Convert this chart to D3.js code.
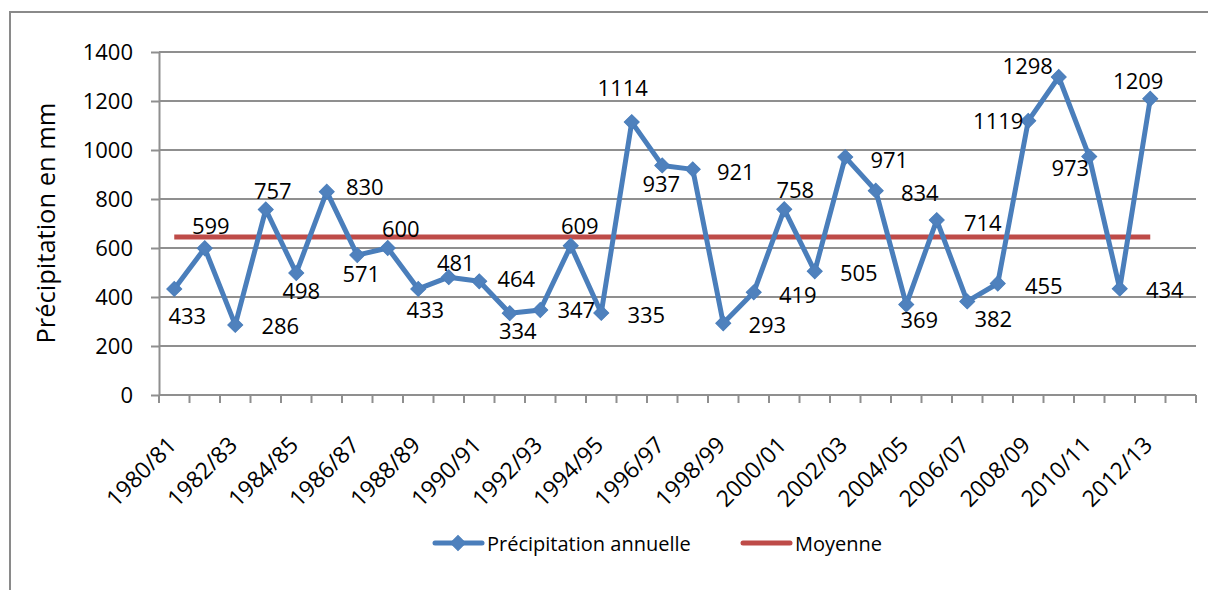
<!DOCTYPE html>
<html>
<head>
<meta charset="utf-8">
<script src="https://cdn.jsdelivr.net/npm/d3@7"></script>
<style>
  body { margin: 0; background: #fff; }
  text { font-family: "Open Sans", "Noto Sans", sans-serif; fill: #000; }
</style>
</head>
<body>
<div id="chart"></div>
<script>
// annual rainfall, one value per hydrological year
const years = ["1980/81", "1981/82", "1982/83", "1983/84", "1984/85", "1985/86", "1986/87", "1987/88",
               "1988/89", "1989/90", "1990/91", "1991/92", "1992/93", "1993/94", "1994/95", "1995/96",
               "1996/97", "1997/98", "1998/99", "1999/00", "2000/01", "2001/02", "2002/03", "2003/04",
               "2004/05", "2005/06", "2006/07", "2007/08", "2008/09", "2009/10", "2010/11", "2011/12",
               "2012/13", "2013/14"];
const precip = [433, 599, 286, 757, 498, 830, 571, 600, 433, 481, 464, 334, 347, 609, 335, 1114,
                937, 921, 293, 419, 758, 505, 971, 834, 369, 714, 382, 455, 1119, 1298, 973, 434,
                1209, null];
const moyenne = 645;
const yTicks = [0, 200, 400, 600, 800, 1000, 1200, 1400];

// where each data label sits relative to its point (dx, dy) - labels were dragged around by hand
const labelOffsets = [[13, 26], [6, -23], [45, 0], [7, -20], [5, 17], [38, -6], [4, 18], [13, -20],
                      [7, 20], [7, -15], [37, -3], [8, 17], [36, -1], [9, -21], [45, 1], [-9, -35],
                      [-1, 18], [43, 2], [44, 1], [44, 2], [11, -20], [44, 1], [44, 2], [44, 1],
                      [13, 14], [46, 2], [26, 17], [46, 1], [-30, -1], [-31, -12], [-19, 10], [45, 0],
                      [-12, -19], [0, 0]];

const width = 1208,
      height = 590,
      margin = ({ top: 52, right: 12, bottom: 195, left: 159 });

const blue = "#4a7ebb", red = "#be4b48", grid = "#8f8f8f";

let svg = d3.select("#chart")
    .append("svg")
    .attr("width", width)
    .attr("height", height)
    .attr("viewBox", [0, 0, width, height]);

// chart area frame (runs off the right and bottom of the picture)
svg.append("rect")
    .attr("x", 10).attr("y", 12)
    .attr("width", 1400).attr("height", 800)
    .attr("fill", "#fff")
    .attr("stroke", "#8a8a8a")
    .attr("stroke-width", 2);

let x = d3.scaleBand()
    .domain(years)
    .range([margin.left, width - margin.right])
    .padding(0);

let y = d3.scaleLinear()
    .domain([0, 1400])
    .range([height - margin.bottom, margin.top]);

const cx = d => x(d) + x.bandwidth() / 2;

// horizontal gridlines
svg.append("g")
    .selectAll("line")
    .data(yTicks.filter(t => t > 0))
    .join("line")
    .attr("x1", margin.left)
    .attr("x2", width - margin.right)
    .attr("y1", d => y(d))
    .attr("y2", d => y(d))
    .attr("stroke", grid)
    .attr("stroke-width", 2);

// y axis
let yAxis = svg.append("g")
    .attr("transform", `translate(${margin.left},0)`)
    .call(d3.axisLeft(y).tickValues(yTicks).tickFormat(d => d + "")
        .tickSize(8).tickPadding(18).tickSizeOuter(0));
yAxis.select(".domain").attr("stroke", grid).attr("stroke-width", 2);
yAxis.selectAll(".tick line").attr("stroke", grid).attr("stroke-width", 2);
yAxis.selectAll(".tick text")
    .style("font-size", "22px")
    .style("font-family", "Open Sans");

// x axis line + ticks at the band edges
let xg = svg.append("g");
xg.append("line")
    .attr("x1", margin.left)
    .attr("x2", width - margin.right)
    .attr("y1", y(0)).attr("y2", y(0))
    .attr("stroke", grid).attr("stroke-width", 2);

xg.selectAll(".xtick")
    .data(years.map(d => x(d)).concat([x.range()[1]]))
    .join("line")
    .attr("class", "xtick")
    .attr("x1", d => d).attr("x2", d => d)
    .attr("y1", y(0)).attr("y2", y(0) + 8)
    .attr("stroke", grid).attr("stroke-width", 2);

// only every second year gets a label
xg.selectAll(".xlabel")
    .data(years.filter((d, i) => i % 2 == 0))
    .join("text")
    .attr("class", "xlabel")
    .attr("transform", d => `translate(${cx(d) - 8},${y(0) + 40}) rotate(-45)`)
    .attr("text-anchor", "end")
    .attr("dy", "0.71em")
    .style("font-size", "23px")
    .text(d => d);

// y axis title
svg.append("text")
    .attr("transform", `translate(45,${(103 + 343) / 2}) rotate(-90)`)
    .attr("text-anchor", "middle")
    .attr("dominant-baseline", "central")
    .style("font-size", "25.5px")
    .text("Précipitation en mm");

// the rainfall series, skipping the empty last year
let pts = years.map((d, i) => ({ year: d, value: precip[i], off: labelOffsets[i] }))
    .filter(d => d.value != null);

// mean line across the years that have data
svg.append("line")
    .attr("x1", cx(pts[0].year))
    .attr("x2", cx(pts[pts.length - 1].year))
    .attr("y1", y(moyenne))
    .attr("y2", y(moyenne))
    .attr("stroke", red)
    .attr("stroke-width", 5);

let line = d3.line()
    .x(d => cx(d.year))
    .y(d => y(d.value));

svg.append("path")
    .datum(pts)
    .attr("fill", "none")
    .attr("stroke", blue)
    .attr("stroke-width", 5)
    .attr("stroke-linejoin", "round")
    .attr("d", line);

const diamond = d3.symbol().type(d3.symbolSquare).size(112);

svg.append("g")
    .selectAll("path")
    .data(pts)
    .join("path")
    .attr("d", diamond)
    .attr("transform", d => `translate(${cx(d.year)},${y(d.value)}) rotate(45)`)
    .attr("fill", "#4f81bd")
    .attr("stroke", blue)
    .attr("stroke-width", 1);

// value labels
svg.append("g")
    .selectAll("text")
    .data(pts)
    .join("text")
    .attr("x", d => cx(d.year) + d.off[0])
    .attr("y", d => y(d.value) + d.off[1])
    .attr("text-anchor", "middle")
    .attr("dominant-baseline", "central")
    .style("font-size", "22px")
    .text(d => d.value);

// legend
let legend = svg.append("g");
legend.append("line")
    .attr("x1", 435).attr("x2", 482)
    .attr("y1", 543).attr("y2", 543)
    .attr("stroke", blue).attr("stroke-width", 5).attr("stroke-linecap", "round");
legend.append("path")
    .attr("d", diamond)
    .attr("transform", "translate(458,543) rotate(45)")
    .attr("fill", "#4f81bd").attr("stroke", blue);
legend.append("text")
    .attr("x", 487).attr("y", 543)
    .attr("dominant-baseline", "central")
    .style("font-size", "20px")
    .text("Précipitation annuelle");

legend.append("line")
    .attr("x1", 743).attr("x2", 790)
    .attr("y1", 543).attr("y2", 543)
    .attr("stroke", red).attr("stroke-width", 5).attr("stroke-linecap", "round");
legend.append("text")
    .attr("x", 795).attr("y", 543)
    .attr("dominant-baseline", "central")
    .style("font-size", "20px")
    .text("Moyenne");
</script>
</body>
</html>
